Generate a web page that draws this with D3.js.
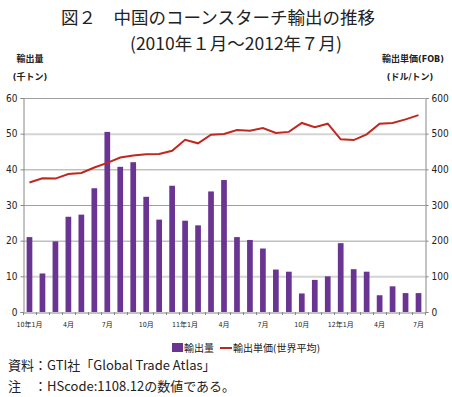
<!DOCTYPE html>
<html>
<head>
    <meta charset="utf-8">
    <script src="https://d3js.org/d3.v7.min.js"></script>
    <style>
        body, html {
            margin: 0;
            background: #fff;
        }
        text { font-family: "Noto Sans CJK JP", sans-serif; fill: #222; }
        .narrow { font-family: "DejaVu Sans Condensed", "Noto Sans CJK JP", sans-serif; }
    </style>
</head>
<body>
<div id="chart"></div>
<script>
    // months Jan 2010 .. Jul 2012
    const months = d3.range(31);
    const tickLabels = ["10年1月", "4月", "7月", "10月", "11年1月", "4月", "7月", "10月", "12年1月", "4月", "7月"];
    // export volume (thousand tons)
    const volume = [21, 10.8, 19.8, 26.7, 27.3, 34.7, 50.5, 40.7, 42, 32.3, 25.9, 35.4,
                    25.6, 24.3, 33.8, 37, 21, 20.2, 17.8, 11.9, 11.3, 5.2, 9, 10,
                    19.3, 12, 11.3, 4.7, 7.2, 5.3, 5.3];
    // unit price FOB (USD / ton)
    const price = [363, 375, 374, 387, 390, 405, 418, 433, 439, 442, 443, 452,
                   483, 473, 497, 499, 510, 508, 516, 502, 505, 530, 518, 528,
                   484, 482, 498, 528, 530, 540, 552];
    const leftTicks = [0, 10, 20, 30, 40, 50, 60];
    const rightTicks = [0, 100, 200, 300, 400, 500, 600];

    const width = 452, height = 397;
    const plotL = 23, plotR = 425, plotT = 98, plotB = 312;

    const svg = d3.select("#chart").append("svg")
        .attr("width", width)
        .attr("height", height);

    const x = d3.scaleBand().domain(months).range([plotL, plotR]).paddingInner(0.56).paddingOuter(0.28);
    const xb = d3.scaleBand().domain(months).range([plotL, plotR]);
    const yL = d3.scaleLinear().domain([0, 60]).range([plotB, plotT]);
    const yR = d3.scaleLinear().domain([0, 600]).range([plotB, plotT]);

    // title
    svg.append("text").attr("x", 218).attr("y", 24).attr("text-anchor", "middle")
        .style("font-size", "17.5px").text("図２　中国のコーンスターチ輸出の推移");
    svg.append("text").attr("x", 236).attr("y", 50).attr("text-anchor", "middle")
        .style("font-size", "17.5px").text("(2010年１月～2012年７月)");

    // gridlines
    svg.append("g").selectAll("line").data(leftTicks.slice(1)).join("line")
        .attr("x1", plotL).attr("x2", plotR)
        .attr("y1", d => yL(d) + 0.5).attr("y2", d => yL(d) + 0.5)
        .attr("stroke", d => (d === 10 || d === 50) ? "#d4d4d4" : "#a0a0a0")
        .attr("stroke-width", d => (d === 10 || d === 50) ? 2 : 1);

    // axes
    const axisL = svg.append("g").attr("transform", `translate(${plotL + 0.5},0)`)
        .call(d3.axisLeft(yL).tickValues(leftTicks).tickSize(3).tickPadding(3));
    const axisR = svg.append("g").attr("transform", `translate(${plotR + 0.5},0)`)
        .call(d3.axisRight(yR).tickValues(rightTicks).tickSize(3).tickPadding(3));
    const axisB = svg.append("g").attr("transform", `translate(0,${plotB + 0.5})`)
        .call(d3.axisBottom(xb).tickValues([]).tickSize(0));
    [axisL, axisR, axisB].forEach(a => {
        a.select(".domain").attr("stroke", "#888");
        a.selectAll(".tick line").attr("stroke", "#888");
        a.selectAll("text").attr("class", "narrow").style("font-size", "10px").attr("fill", "#222");
    });

    // month tick marks at band edges
    svg.append("g").selectAll("line").data(d3.range(32)).join("line")
        .attr("x1", d => Math.round(plotL + d * xb.step()) + 0.5)
        .attr("x2", d => Math.round(plotL + d * xb.step()) + 0.5)
        .attr("y1", plotB).attr("y2", plotB + 3)
        .attr("stroke", "#888");

    // month labels every 3 months
    svg.append("g").selectAll("text").data(tickLabels).join("text")
        .attr("class", "narrow")
        .attr("x", (d, i) => xb(i * 3) + xb.bandwidth() / 2)
        .attr("y", plotB + 15)
        .attr("text-anchor", "middle")
        .style("font-size", "7px")
        .text(d => d);

    // bars
    svg.append("g").selectAll("rect").data(volume).join("rect")
        .attr("x", (d, i) => x(i))
        .attr("y", d => yL(d))
        .attr("width", x.bandwidth())
        .attr("height", d => plotB - yL(d))
        .attr("fill", "#6a3592");

    // line
    const line = d3.line()
        .x((d, i) => xb(i) + xb.bandwidth() / 2)
        .y(d => yR(d));
    svg.append("path").datum(price)
        .attr("d", line)
        .attr("fill", "none")
        .attr("stroke", "#c0281f")
        .attr("stroke-width", 2);

    // axis titles
    svg.append("text").attr("class", "narrow").attr("x", 30).attr("y", 62).attr("text-anchor", "middle")
        .style("font-size", "9px").style("font-weight", "bold").text("輸出量");
    svg.append("text").attr("class", "narrow").attr("x", 30).attr("y", 80).attr("text-anchor", "middle")
        .style("font-size", "9px").style("font-weight", "bold").text("(千トン)");
    svg.append("text").attr("class", "narrow").attr("x", 413).attr("y", 62).attr("text-anchor", "middle")
        .style("font-size", "9px").style("font-weight", "bold").text("輸出単価(FOB)");
    svg.append("text").attr("class", "narrow").attr("x", 410).attr("y", 80).attr("text-anchor", "middle")
        .style("font-size", "9px").style("font-weight", "bold").text("(ドル/トン)");

    // legend
    const lg = svg.append("g");
    lg.append("rect").attr("x", 172).attr("y", 343).attr("width", 11).attr("height", 9).attr("fill", "#6a3592");
    lg.append("text").attr("class", "narrow").attr("x", 184).attr("y", 352).style("font-size", "10px").text("輸出量");
    lg.append("line").attr("x1", 220).attr("x2", 232).attr("y1", 348).attr("y2", 348)
        .attr("stroke", "#c0281f").attr("stroke-width", 2);
    lg.append("text").attr("class", "narrow").attr("x", 233).attr("y", 352).style("font-size", "10px").text("輸出単価(世界平均)");

    // notes
    svg.append("text").attr("x", 8).attr("y", 370).style("font-size", "13px").text("資料：GTI社「Global Trade Atlas」");
    svg.append("text").attr("x", 8).attr("y", 391).style("font-size", "13px").text("注　：HScode:1108.12の数値である。");
</script>
</body>
</html>
